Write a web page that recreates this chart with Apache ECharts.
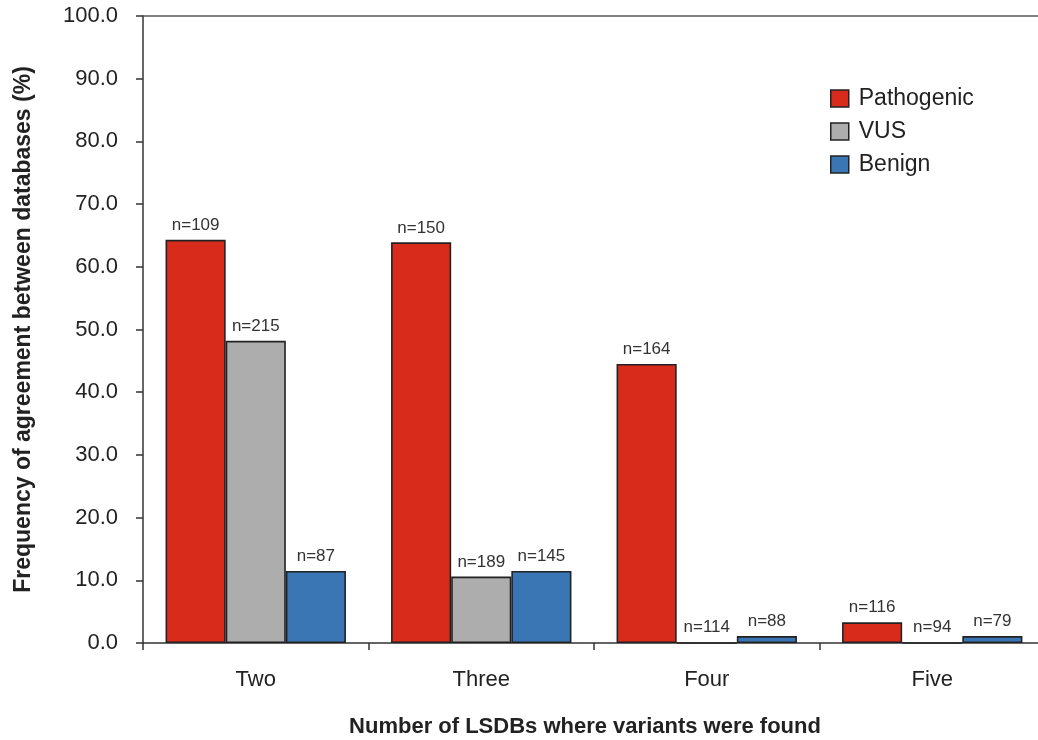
<!DOCTYPE html>
<html>
<head>
<meta charset="utf-8">
<script src="https://cdn.jsdelivr.net/npm/echarts@6/dist/echarts.min.js"></script>
<style>html,body{margin:0;padding:0;background:#fff}#c{width:1038px;height:740px}</style>
</head>
<body>
<div id="c"></div>
<script>
const categories = ['Two', 'Three', 'Four', 'Five'];
const pathogenic = [64.3, 63.9, 44.5, 3.3];
const vus = [48.2, 10.6, 0, 0];
const benign = [11.5, 11.5, 1.1, 1.1];
const pathogenicN = ['n=109', 'n=150', 'n=164', 'n=116'];
const vusN = ['n=215', 'n=189', 'n=114', 'n=94'];
const benignN = ['n=87', 'n=145', 'n=88', 'n=79'];

const font = 'Arial, "Liberation Sans", sans-serif';
function mk(name, data, labels, color) {
  return {
    name: name, type: 'bar', data: data,
    barGap: '0%', barCategoryGap: '20%',
    itemStyle: { color: color, borderColor: '#222', borderWidth: 1.6 },
    label: {
      show: true, position: 'top', distance: 6,
      formatter: p => labels[p.dataIndex],
      color: '#333', fontSize: 17, fontFamily: font
    }
  };
}
const chart = echarts.init(document.getElementById('c'));
chart.setOption({
  animation: false,
  backgroundColor: '#fff',
  grid: { left: 143, top: 16, width: 902, height: 627, outerBoundsMode: 'none', containLabel: false },
  legend: {
    orient: 'vertical', left: 825, top: 82, icon: 'rect',
    itemWidth: 18, itemHeight: 17, itemGap: 10,
    itemStyle: { borderColor: '#222', borderWidth: 1.5 },
    textStyle: { fontSize: 23, lineHeight: 22, color: '#222', fontFamily: font, padding: [0, 0, 0, 5] },
    data: ['Pathogenic', 'VUS', 'Benign']
  },
  xAxis: [{
    type: 'category', data: categories,
    axisLine: { lineStyle: { color: '#333', width: 1.5 } },
    axisTick: { show: true, length: 7, lineStyle: { color: '#333', width: 1.5 } },
    axisLabel: { fontSize: 22, color: '#222', margin: 26, fontFamily: font },
    name: 'Number of LSDBs where variants were found',
    nameLocation: 'middle', nameGap: 73,
    nameTextStyle: { fontSize: 22, fontWeight: 'bold', color: '#222', fontFamily: font, padding: [0, 18, 0, 0] }
  }, {
    type: 'category', data: categories, position: 'top',
    axisLine: { lineStyle: { color: '#555', width: 1.5 } },
    axisTick: { show: false }, axisLabel: { show: false }
  }],
  yAxis: {
    type: 'value', min: 0, max: 100, interval: 10,
    axisLine: { show: true, lineStyle: { color: '#333', width: 1.5 } },
    axisTick: { show: true, length: 7, lineStyle: { color: '#333', width: 1.5 } },
    splitLine: { show: false },
    axisLabel: { fontSize: 22, color: '#222', margin: 25, fontFamily: font, formatter: v => v.toFixed(1) },
    name: 'Frequency of agreement between databases (%)',
    nameLocation: 'middle', nameGap: 108, nameRotate: 90,
    nameTextStyle: { fontSize: 23, fontWeight: 'bold', color: '#222', fontFamily: font }
  },
  series: [
    mk('Pathogenic', pathogenic, pathogenicN, '#D92B1C'),
    mk('VUS', vus, vusN, '#ADADAD'),
    mk('Benign', benign, benignN, '#3A76B4')
  ]
});
</script>
</body>
</html>
